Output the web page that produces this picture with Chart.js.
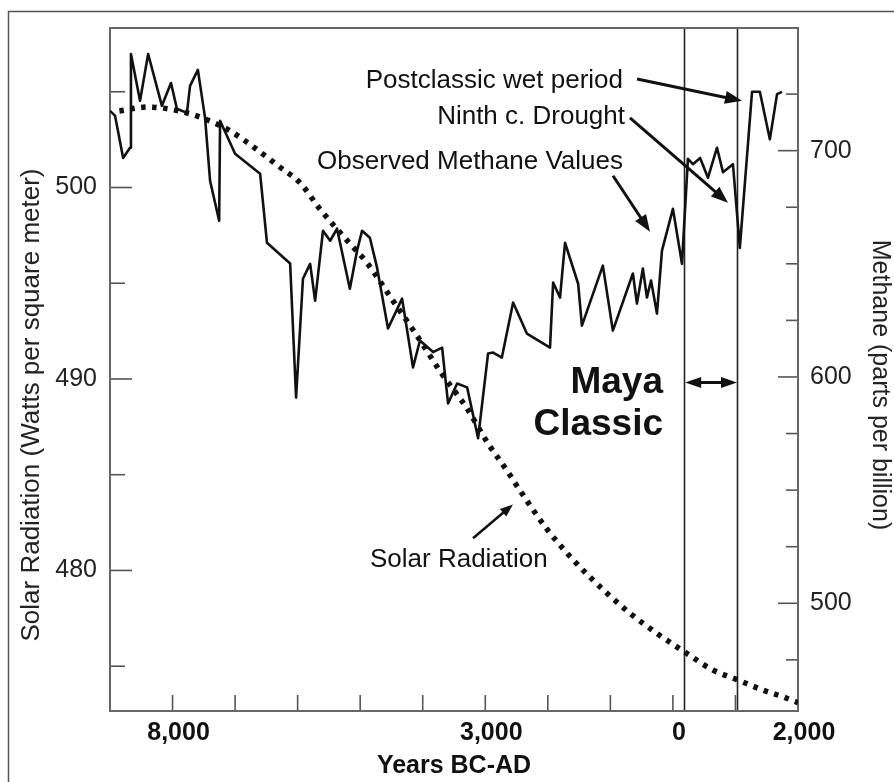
<!DOCTYPE html>
<html>
<head>
<meta charset="utf-8">
<script src="https://cdn.jsdelivr.net/npm/chart.js@4/dist/chart.umd.min.js"></script>
<style>
  html, body { margin: 0; padding: 0; background: #fff; }
  #wrap { width: 894px; height: 782px; position: relative; }
</style>
</head>
<body>
<div id="wrap"><canvas id="c" width="894" height="782"></canvas></div>
<script>
// ---- Data -------------------------------------------------------------
// Years: negative = BC, positive = AD
const METHANE_YEARS = [-9000,-8920,-8790,-8680,-8665,-8520,-8390,-8170,-8025,-7930,-7770,-7720,-7595,-7480,-7400,-7255,-7240,-7000,-6600,-6490,-6120,-6025,-5915,-5800,-5720,-5595,-5480,-5370,-5165,-5050,-4970,-4845,-4730,-4555,-4330,-4155,-4045,-3835,-3690,-3595,-3450,-3290,-3115,-2955,-2875,-2735,-2555,-2335,-1965,-1915,-1805,-1725,-1515,-1455,-1120,-960,-640,-575,-480,-415,-350,-255,-175,0,145,240,320,435,560,705,800,960,1070,1265,1390,1550,1665,1745];
const METHANE_PPB = [717.6,715.5,696.8,701.3,742.7,722,742.7,719.8,729.9,718.5,716.7,728.6,735.7,714.5,686.7,669,713.2,698.6,689.8,659.3,650.1,590.9,643.4,650,633.7,664.6,660.2,665.5,639,655.8,664.6,661.5,648.3,621.4,634.6,604.2,616.1,611,613,588.3,597.1,595.4,572.9,610.4,610.8,608.6,632.9,619.2,613,641.7,635.1,659.3,641.2,622.7,649.2,620.5,645.7,632.4,647.9,635.1,642.6,628,655.8,674.3,650,696.4,694,696.8,688,701.3,690.5,694,657,726,726,705,725,726];

const SOLAR_YEARS = [-8850,-8400,-7900,-7500,-7100,-6700,-6300,-5950,-5650,-5200,-4900,-4500,-4100,-3700,-3300,-2950,-2650,-2450,-2000,-1550,-1050,-700,-250,160,640,1025,1440,1760,2000];
const SOLAR_WM2 = [504.0,504.2,504.0,503.6,503.0,502.1,501.1,500.2,498.9,497.2,496.1,494.2,492.3,490.3,488.5,486.6,485.2,484.2,482.1,480.4,478.8,477.8,476.7,475.8,474.8,474.3,473.75,473.4,473.1];

// Axis ticks
const X_TICKS = [-9000,-8000,-7000,-6000,-5000,-4000,-3000,-2000,-1000,0,1000,2000];
const X_LABEL_VALUES = [-8000,-3000,0,2000];
const X_LABEL_TEXT = ['8,000','3,000','0','2,000'];
const SOLAR_TICKS = [475,480,485,490,495,500,505];
const SOLAR_LABELS = [480,490,500];
const METHANE_TICKS = [475,500,525,550,575,600,625,650,675,700,725];
const METHANE_LABELS = [500,600,700];

// Maya Classic period (AD)
const MAYA_CLASSIC = [180, 1025];

// Annotations, in data units
const METHANE_NOTES = [
  { text: 'Postclassic wet period', year: -798, ppb: 727.7 },
  { text: 'Ninth c. Drought', year: -766, ppb: 711.8 },
  { text: 'Observed Methane Values', year: -798, ppb: 692.0 }
];
const METHANE_ARROWS = [
  { from: [-574, 731.7], to: [1105, 722.0] },
  { from: [-686, 714.5], to: [881, 677.0] },
  { from: [-958, 688.9], to: [-366, 664.2] }
];
const SOLAR_NOTE = { text: 'Solar Radiation', year: -4843, wm2: 480.17 };
const SOLAR_ARROW = { from: [-3196, 481.68], to: [-2557, 483.45] };
const MAYA_TEXT = [ { text: 'Maya', ppb: 592.7 }, { text: 'Classic', ppb: 574.2 } ];
const MAYA_TEXT_YEAR = -158;
const MAYA_ARROW_PPB = 597.6;

const FONT = '"Liberation Sans", Arial, Helvetica, sans-serif';

function arrowHead(ctx, x1, y1, x2, y2, len, half) {
  const a = Math.atan2(y2 - y1, x2 - x1);
  ctx.beginPath();
  ctx.moveTo(x2, y2);
  ctx.lineTo(x2 - len * Math.cos(a) + half * Math.sin(a), y2 - len * Math.sin(a) - half * Math.cos(a));
  ctx.lineTo(x2 - len * Math.cos(a) - half * Math.sin(a), y2 - len * Math.sin(a) + half * Math.cos(a));
  ctx.closePath();
  ctx.fill();
}
function arrow(ctx, x1, y1, x2, y2, width, len, half) {
  const a = Math.atan2(y2 - y1, x2 - x1);
  ctx.lineWidth = width;
  ctx.beginPath();
  ctx.moveTo(x1, y1);
  ctx.lineTo(x2 - (len * 0.7) * Math.cos(a), y2 - (len * 0.7) * Math.sin(a));
  ctx.stroke();
  arrowHead(ctx, x1, y1, x2, y2, len, half);
}

const frameAndMarks = {
  id: 'frameAndMarks',
  beforeDraw(chart) {
    const ctx = chart.ctx;
    ctx.save();
    ctx.fillStyle = '#fff';
    ctx.fillRect(0, 0, chart.width, chart.height);
    // figure frame
    ctx.strokeStyle = '#555';
    ctx.lineWidth = 1.5;
    ctx.strokeRect(8.5, 11.5, chart.width + 20, chart.height + 20);
    ctx.restore();
  },
  beforeDatasetsDraw(chart) {
    const { ctx, chartArea: a, scales } = chart;
    const x = scales.x, yS = scales.ySolar, yM = scales.yMethane;
    ctx.save();
    // Maya Classic boundaries
    ctx.strokeStyle = '#222';
    ctx.lineWidth = 1.6;
    MAYA_CLASSIC.forEach(v => {
      const px = Math.round(x.getPixelForValue(v)) + 0.5;
      ctx.beginPath(); ctx.moveTo(px, a.top); ctx.lineTo(px, a.bottom); ctx.stroke();
    });
    // inward tick marks
    ctx.strokeStyle = '#555';
    ctx.lineWidth = 1.6;
    X_TICKS.forEach(v => {
      const px = x.getPixelForValue(v);
      if (px <= a.left + 1 || px >= a.right - 1) return;
      ctx.beginPath(); ctx.moveTo(px, a.bottom); ctx.lineTo(px, a.bottom - 16); ctx.stroke();
    });
    SOLAR_TICKS.forEach(v => {
      const py = yS.getPixelForValue(v);
      const len = SOLAR_LABELS.includes(v) ? 22 : 15;
      ctx.beginPath(); ctx.moveTo(a.left, py); ctx.lineTo(a.left + len, py); ctx.stroke();
    });
    METHANE_TICKS.forEach(v => {
      const py = yM.getPixelForValue(v);
      const len = METHANE_LABELS.includes(v) ? 20 : 12;
      ctx.beginPath(); ctx.moveTo(a.right, py); ctx.lineTo(a.right - len, py); ctx.stroke();
    });
    // plot box
    ctx.strokeStyle = '#666';
    ctx.lineWidth = 2;
    ctx.strokeRect(a.left, a.top, a.right - a.left, a.bottom - a.top);
    ctx.restore();
  },
  afterDatasetsDraw(chart) {
    const { ctx, chartArea: a, scales } = chart;
    const x = scales.x, yS = scales.ySolar, yM = scales.yMethane;
    ctx.save();
    ctx.fillStyle = '#111';
    ctx.strokeStyle = '#111';
    ctx.lineCap = 'butt';

    // methane annotations
    ctx.font = '26px ' + FONT;
    ctx.textAlign = 'right';
    ctx.textBaseline = 'alphabetic';
    METHANE_NOTES.forEach(n => {
      ctx.fillText(n.text, x.getPixelForValue(n.year), yM.getPixelForValue(n.ppb));
    });
    METHANE_ARROWS.forEach(ar => {
      arrow(ctx, x.getPixelForValue(ar.from[0]), yM.getPixelForValue(ar.from[1]),
                 x.getPixelForValue(ar.to[0]), yM.getPixelForValue(ar.to[1]), 3, 17, 6.5);
    });

    // solar annotation
    ctx.textAlign = 'left';
    ctx.fillText(SOLAR_NOTE.text, x.getPixelForValue(SOLAR_NOTE.year), yS.getPixelForValue(SOLAR_NOTE.wm2));
    arrow(ctx, x.getPixelForValue(SOLAR_ARROW.from[0]), yS.getPixelForValue(SOLAR_ARROW.from[1]),
               x.getPixelForValue(SOLAR_ARROW.to[0]), yS.getPixelForValue(SOLAR_ARROW.to[1]), 2.5, 13, 5);

    // Maya Classic label and span arrow
    ctx.font = 'bold 37px ' + FONT;
    ctx.textAlign = 'right';
    MAYA_TEXT.forEach(t => {
      ctx.fillText(t.text, x.getPixelForValue(MAYA_TEXT_YEAR), yM.getPixelForValue(t.ppb));
    });
    const x1 = x.getPixelForValue(MAYA_CLASSIC[0]) + 1, x2 = x.getPixelForValue(MAYA_CLASSIC[1]);
    const ya = yM.getPixelForValue(MAYA_ARROW_PPB);
    ctx.lineWidth = 3;
    ctx.beginPath(); ctx.moveTo(x1 + 10, ya); ctx.lineTo(x2 - 10, ya); ctx.stroke();
    arrowHead(ctx, x2, ya, x1, ya, 16, 5.5);
    arrowHead(ctx, x1, ya, x2, ya, 16, 5.5);

    // axis titles
    ctx.fillStyle = '#222';
    ctx.textAlign = 'center';
    ctx.textBaseline = 'middle';
    ctx.font = '26px ' + FONT;
    ctx.save();
    ctx.translate(32, 405);
    ctx.rotate(-Math.PI / 2);
    ctx.fillText('Solar Radiation (Watts per square meter)', 0, 0);
    ctx.restore();
    ctx.font = '25px ' + FONT;
    ctx.save();
    ctx.translate(880, 385);
    ctx.rotate(Math.PI / 2);
    ctx.fillText('Methane (parts per billion)', 0, 0);
    ctx.restore();
    ctx.fillStyle = '#111';
    ctx.font = 'bold 25px ' + FONT;
    ctx.fillText('Years BC-AD', (a.left + a.right) / 2, 766);
    ctx.restore();
  }
};

const fixedLabels = (list) => (scale) => { scale.ticks = list.map(v => ({ value: v })); };

new Chart(document.getElementById('c'), {
  type: 'line',
  data: {
    datasets: [
      {
        label: 'Observed Methane Values',
        data: METHANE_YEARS.map((yr, i) => ({ x: yr, y: METHANE_PPB[i] })),
        yAxisID: 'yMethane',
        borderColor: '#111',
        borderWidth: 2.6,
        pointRadius: 0,
        tension: 0,
        borderJoinStyle: 'round'
      },
      {
        label: 'Solar Radiation',
        data: SOLAR_YEARS.map((yr, i) => ({ x: yr, y: SOLAR_WM2[i] })),
        yAxisID: 'ySolar',
        borderColor: '#111',
        borderWidth: 5.5,
        borderDash: [4.5, 6.5],
        borderCapStyle: 'butt',
        pointRadius: 0,
        cubicInterpolationMode: 'monotone'
      }
    ]
  },
  options: {
    responsive: false,
    animation: false,
    devicePixelRatio: 1,
    layout: { padding: { top: 27, left: 0, right: 0, bottom: 0 } },
    plugins: { legend: { display: false }, tooltip: { enabled: false } },
    scales: {
      x: {
        type: 'linear',
        position: 'bottom',
        min: -9000,
        max: 2000,
        afterFit: s => { s.height = 71; },
        afterBuildTicks: fixedLabels(X_LABEL_VALUES),
        grid: { display: false, drawTicks: false },
        border: { display: false },
        ticks: {
          autoSkip: false,
          maxRotation: 0,
          padding: 7,
          labelOffset: 6,
          color: '#111',
          font: { family: FONT, size: 25, weight: 'bold' },
          callback: (v) => X_LABEL_TEXT[X_LABEL_VALUES.indexOf(v)]
        }
      },
      ySolar: {
        type: 'linear',
        position: 'left',
        min: 472.66,
        max: 508.33,
        afterFit: s => { s.width = 110; },
        afterBuildTicks: fixedLabels(SOLAR_LABELS),
        grid: { display: false, drawTicks: false },
        border: { display: false },
        ticks: { padding: 13, color: '#222', font: { family: FONT, size: 25 }, callback: v => String(v) }
      },
      yMethane: {
        type: 'linear',
        position: 'right',
        min: 452.4,
        max: 754.2,
        afterFit: s => { s.width = 96; },
        afterBuildTicks: fixedLabels(METHANE_LABELS),
        grid: { display: false, drawTicks: false },
        border: { display: false },
        ticks: { padding: 12, color: '#222', font: { family: FONT, size: 25 }, callback: v => String(v) }
      }
    }
  },
  plugins: [frameAndMarks]
});
</script>
</body>
</html>
